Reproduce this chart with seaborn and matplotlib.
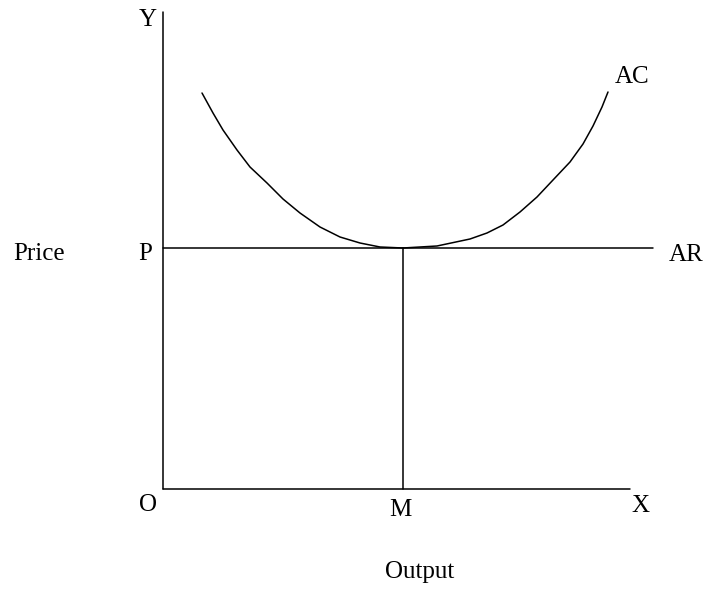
import numpy as np
import pandas as pd
import seaborn as sns
import matplotlib.pyplot as plt

# 坐标以原点 O 为 0，单位约等于像素
ac_x = [39, 50, 60, 74, 87, 104, 120, 137, 157, 177, 197, 217, 240,
        274, 307, 324, 340, 357, 374, 390, 407, 420, 430, 439, 445]
ac_y = [396, 376, 359, 339, 322, 306, 290, 276, 262, 252, 246, 242, 241,
        243, 250, 256, 264, 277, 292, 309, 327, 345, 363, 382, 397]

price_level = 241
output_m = 240
x_axis_end = 467
y_axis_end = 477
ar_end = 490

labels = ['Y', 'AC', 'Price', 'P', 'AR', 'O', 'M', 'X', 'Output']
label_x = [-15, 469, -124, -18, 523, -15, 237, 477, 257]
label_y = [469, 412, 235, 235, 234, -16, -21, -17, -83]

sns.set_theme(style='white')
plt.rcParams['font.family'] = ['Liberation Serif', 'DejaVu Serif']

fig = plt.figure(figsize=(7.09, 5.89), dpi=100)
ax = fig.add_axes([0, 0, 1, 1])

ac = pd.DataFrame({'x': ac_x, 'y': ac_y})
sns.lineplot(data=ac, x='x', y='y', sort=False, estimator=None,
             color='black', linewidth=1.1, ax=ax)

# 坐标轴、AR 线和 M 处的竖线
sns.lineplot(x=[0, x_axis_end], y=[0, 0], color='black', linewidth=1.1, ax=ax)
sns.lineplot(x=[0, 0], y=[0, y_axis_end], sort=False, estimator=None,
             color='black', linewidth=1.1, ax=ax)
sns.lineplot(x=[0, ar_end], y=[price_level, price_level], color='black',
             linewidth=1.1, ax=ax)
sns.lineplot(x=[output_m, output_m], y=[0, price_level], sort=False,
             estimator=None, color='black', linewidth=1.1, ax=ax)

for t, lx, ly in zip(labels, label_x, label_y):
    ax.text(lx, ly, t, fontsize=18, ha='center', va='center', color='black')

ax.set_xlim(-163, 546)
ax.set_ylim(-100, 489)
ax.axis('off')

plt.savefig('out.png', dpi=100)
